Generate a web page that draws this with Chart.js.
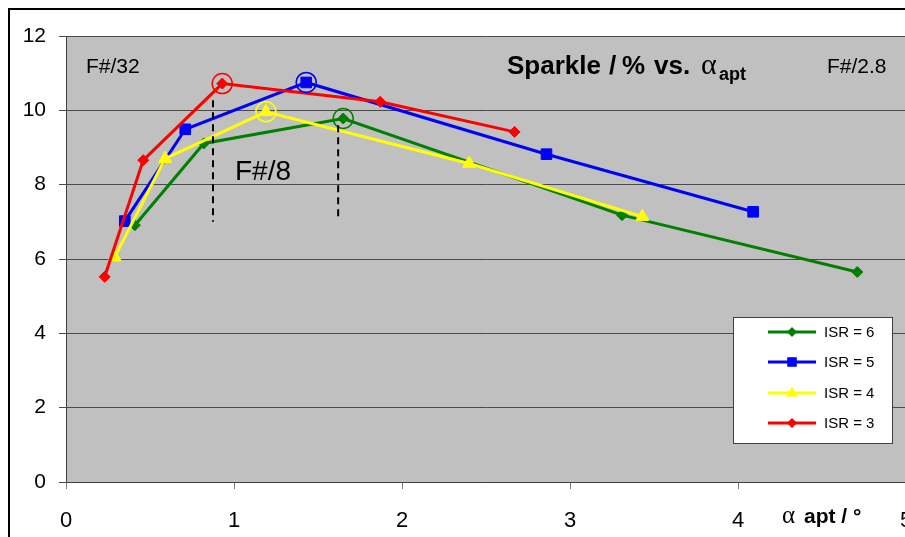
<!DOCTYPE html>
<html>
<head>
<meta charset="utf-8">
<script src="https://cdn.jsdelivr.net/npm/chart.js@4/dist/chart.umd.min.js"></script>
<style>
  html, body { margin: 0; padding: 0; background: #fff; overflow: hidden; }
  #wrap { position: absolute; left: 0; top: 0; width: 930px; height: 537px; }
</style>
</head>
<body>
<div id="wrap"><canvas id="c"></canvas></div>
<script>
// values (alpha apt in degrees, sparkle in %)
const isr6X = [0.41, 0.82, 1.65, 3.31, 4.71];
const isr6Y = [6.91, 9.11, 9.78, 7.18, 5.65];
const isr5X = [0.35, 0.71, 1.43, 2.86, 4.09];
const isr5Y = [7.02, 9.49, 10.75, 8.82, 7.27];
const isr4X = [0.29, 0.59, 1.19, 2.40, 3.43];
const isr4Y = [6.05, 8.70, 9.96, 8.57, 7.14];
const isr3X = [0.23, 0.46, 0.93, 1.87, 2.67];
const isr3Y = [5.52, 8.66, 10.72, 10.23, 9.42];
const seriesNames = ["ISR = 6", "ISR = 5", "ISR = 4", "ISR = 3"];
const peakIndex = [2, 2, 2, 2];          // circled maxima
const dashX = [0.875, 1.62];             // F#/8 markers
const dashTop = [10.27, 9.6];
const dashBottom = [7.0, 7.05];
const xTicks = [0, 1, 2, 3, 4, 5];

const colors = ["#008000", "#0000ff", "#ffff00", "#ff0000"];
const styles = ["rectRot", "rect", "triangle", "rectRot"];
const radii = [5.5, 7.5, 7.5, 5.5];
const xs = [isr6X, isr5X, isr4X, isr3X];
const ys = [isr6Y, isr5Y, isr4Y, isr3Y];

function pts(x, y) { return x.map((v, i) => ({x: v, y: y[i]})); }

const datasets = [];
xs.forEach((x, i) => {
  datasets.push({
    label: seriesNames[i],
    data: pts(x, ys[i]),
    showLine: true,
    borderColor: colors[i],
    backgroundColor: colors[i],
    borderWidth: 3,
    pointStyle: styles[i],
    pointRadius: radii[i],
    pointBorderWidth: 1,
    pointBorderColor: colors[i],
    order: 4 - i
  });
});
datasets.push({
  label: "peaks",
  data: peakIndex.map((p, i) => ({x: xs[i][p], y: ys[i][p]})),
  showLine: false,
  pointRadius: 10,
  pointBorderWidth: 1.5,
  pointBorderColor: colors,
  pointBackgroundColor: "rgba(0,0,0,0)",
  order: 0
});
dashX.forEach((x, i) => {
  datasets.push({
    label: "dash" + i,
    data: [{x: x, y: dashTop[i]}, {x: x, y: dashBottom[i]}],
    showLine: true,
    borderColor: "#000",
    borderWidth: 2,
    borderDash: [7, 5],
    pointRadius: 0,
    order: -1
  });
});

const decor = {
  id: "decor",
  beforeDraw(chart) {
    const {ctx, chartArea: a} = chart;
    ctx.save();
    ctx.fillStyle = "#c0c0c0";
    ctx.fillRect(a.left, a.top, a.right - a.left, a.bottom - a.top);
    // outer frame
    ctx.strokeStyle = "#000";
    ctx.lineWidth = 2;
    ctx.beginPath();
    ctx.moveTo(9, 540); ctx.lineTo(9, 9); ctx.lineTo(940, 9);
    ctx.stroke();
    ctx.restore();
  },
  afterDraw(chart) {
    const {ctx} = chart;
    ctx.save();
    ctx.fillStyle = "#000";
    ctx.textBaseline = "alphabetic";
    ctx.font = "21px 'Liberation Sans', Arial";
    ctx.fillText("F#/32", 86, 73);
    ctx.fillText("F#/2.8", 827, 73);
    ctx.font = "28px 'Liberation Sans', Arial";
    ctx.fillText("F#/8", 235, 180);
    // title
    ctx.font = "bold 26px 'Liberation Sans', Arial";
    ctx.fillText("Sparkle", 507, 74);
    ctx.fillText("/", 609, 74);
    ctx.fillText("%", 622, 74);
    ctx.fillText("vs.", 654, 74);
    ctx.font = "30px 'Liberation Serif', serif";
    ctx.fillText("\u03b1", 701, 74);
    ctx.font = "bold 18px 'Liberation Sans', Arial";
    ctx.fillText("apt", 719, 80);
    // axis title
    ctx.font = "25px 'Liberation Serif', serif";
    ctx.fillText("\u03b1", 782, 523);
    ctx.font = "bold 21px 'Liberation Sans', Arial";
    ctx.fillText("apt / \u00b0", 804, 523);
    // legend
    const lx = 733, ly = 317, lw = 159, lh = 126;
    ctx.fillStyle = "#fff";
    ctx.fillRect(lx, ly, lw, lh);
    ctx.strokeStyle = "#404040";
    ctx.lineWidth = 1;
    ctx.strokeRect(lx + 0.5, ly + 0.5, lw, lh);
    const rowY = [332, 362, 393, 423];
    seriesNames.forEach((n, i) => {
      const y = rowY[i];
      ctx.strokeStyle = colors[i];
      ctx.lineWidth = 3;
      ctx.beginPath(); ctx.moveTo(768, y); ctx.lineTo(816, y); ctx.stroke();
      ctx.fillStyle = colors[i];
      Chart.helpers.drawPoint(ctx, {pointStyle: styles[i], radius: radii[i] * 0.9, borderWidth: 0}, 792, y);
      ctx.fillStyle = "#000";
      ctx.font = "15px 'Liberation Sans', Arial";
      ctx.textBaseline = "middle";
      ctx.fillText(n, 824, y + 1);
    });
    ctx.restore();
  }
};

function fixY(s) { s.width = 66; s.paddingTop = 0; s.paddingBottom = 0; }
function fixX(s) { s.height = 55; s.paddingLeft = 0; s.paddingRight = 0; }

new Chart(document.getElementById("c"), {
  type: "scatter",
  data: {datasets: datasets},
  options: {
    responsive: true,
    maintainAspectRatio: false,
    animation: false,
    layout: {padding: {top: 36, right: 24, left: 0, bottom: 0}},
    plugins: {legend: {display: false}, tooltip: {enabled: false}},
    scales: {
      x: {
        type: "linear", min: 0, max: 5,
        afterFit: fixX,
        afterBuildTicks: s => { s.ticks = xTicks.map(v => ({value: v})); },
        grid: {drawOnChartArea: false, drawTicks: true, tickLength: 7, color: "#808080"},
        border: {color: "#404040", width: 1},
        ticks: {color: "#000", padding: 19, font: {family: "'Liberation Sans Narrow', 'Liberation Sans'", size: 22}}
      },
      y: {
        min: 0, max: 12,
        afterFit: fixY,
        grid: {color: "#4a4a4a", lineWidth: 1, tickLength: 7},
        border: {color: "#404040", width: 1},
        ticks: {stepSize: 2, color: "#000", padding: 13, font: {family: "'Liberation Sans', Arial", size: 21}}
      }
    }
  },
  plugins: [decor]
});
</script>
</body>
</html>
